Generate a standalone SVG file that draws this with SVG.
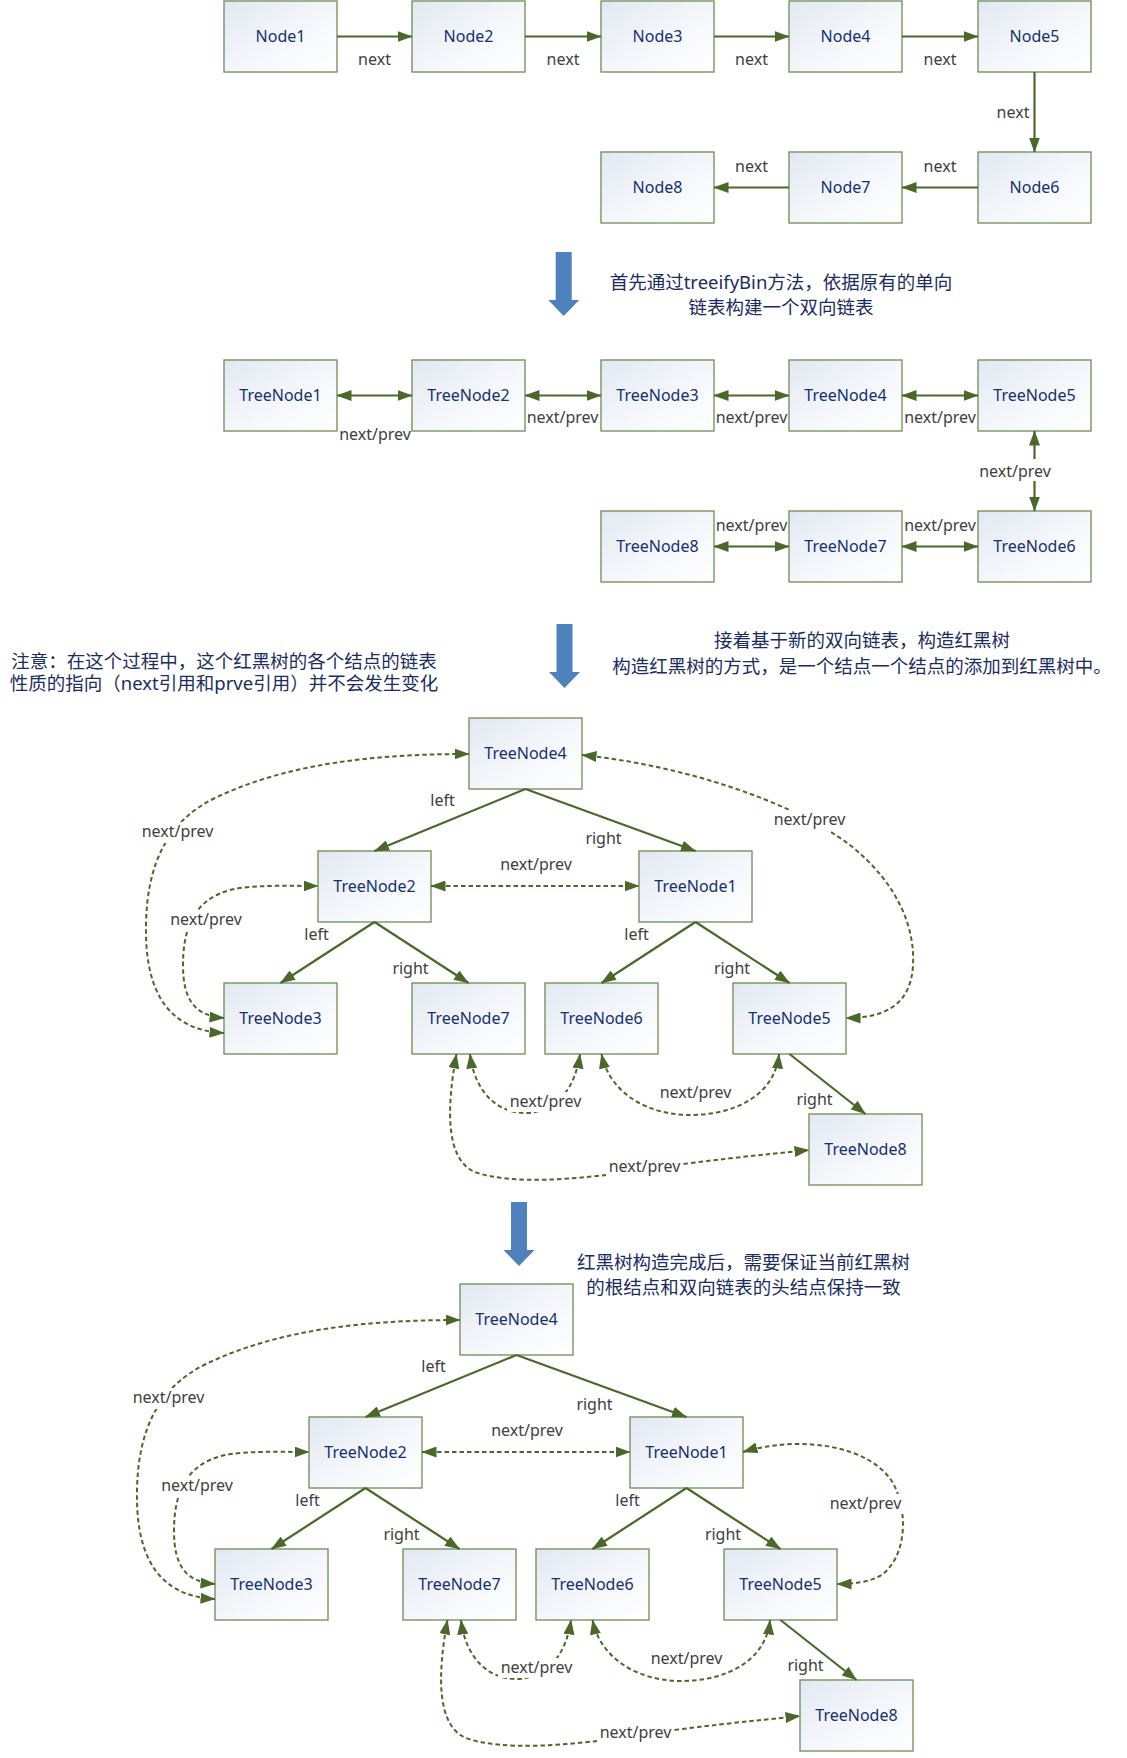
<svg xmlns="http://www.w3.org/2000/svg" xmlns:xlink="http://www.w3.org/1999/xlink" width="1127" height="1758" viewBox="0 0 1127 1758">
<defs>
<linearGradient id="nodefill" x1="0" y1="0" x2="1" y2="1">
<stop offset="0" stop-color="#e2e8f2"/>
<stop offset="0.55" stop-color="#f5f7fb"/>
<stop offset="1" stop-color="#ffffff"/>
</linearGradient>
<marker id="ah" markerUnits="userSpaceOnUse" viewBox="0 0 15 11" markerWidth="15" markerHeight="11" refX="14.5" refY="5.5" orient="auto-start-reverse">
<path d="M0,0 L15,5.5 L0,11 z" fill="#4a682a"/>
</marker>
<path id="bluearrow" d="M-8,0 H8 V48 H15.5 L0,64 L-15.5,48 H-8 z"/>
<style>
.node rect{fill:url(#nodefill);stroke:#6f8c54;stroke-width:1.3}
.node text{font-family:"Noto Sans","Noto Sans CJK SC",sans-serif;font-size:16px;fill:#14306e;text-anchor:middle}
.solid{fill:none;stroke:#4a682a;stroke-width:2.2;marker-end:url(#ah)}
.both{marker-start:url(#ah)}
.dash{fill:none;stroke:#4a682a;stroke-width:2;stroke-dasharray:4.5 3;marker-start:url(#ah);marker-end:url(#ah)}
.lbl{font-family:"Noto Sans","Noto Sans CJK SC",sans-serif;font-size:16px;fill:#404040;text-anchor:middle}
.bg{fill:#ffffff}
.note{font-family:"Noto Sans","Noto Sans CJK SC",sans-serif;font-size:18.5px;fill:#1b2d5e;text-anchor:middle}
.blue{fill:#4f81bd}
</style>
</defs>
<rect width="1127" height="1758" fill="#ffffff"/>

<!-- Section 1: singly linked list -->
<g id="node1" class="node"><rect x="224" y="1" width="113" height="71"/><text x="280.5" y="42.2">Node1</text></g>
<g id="node2" class="node"><rect x="412" y="1" width="113" height="71"/><text x="468.5" y="42.2">Node2</text></g>
<g id="node3" class="node"><rect x="601" y="1" width="113" height="71"/><text x="657.5" y="42.2">Node3</text></g>
<g id="node4" class="node"><rect x="789" y="1" width="113" height="71"/><text x="845.5" y="42.2">Node4</text></g>
<g id="node5" class="node"><rect x="978" y="1" width="113" height="71"/><text x="1034.5" y="42.2">Node5</text></g>
<g id="node8" class="node"><rect x="601" y="152" width="113" height="71"/><text x="657.5" y="193.2">Node8</text></g>
<g id="node7" class="node"><rect x="789" y="152" width="113" height="71"/><text x="845.5" y="193.2">Node7</text></g>
<g id="node6" class="node"><rect x="978" y="152" width="113" height="71"/><text x="1034.5" y="193.2">Node6</text></g>

<!-- Section 2: doubly linked list -->
<g id="treenode1-list" class="node"><rect x="224" y="360" width="113" height="71"/><text x="280.5" y="401.2">TreeNode1</text></g>
<g id="treenode2-list" class="node"><rect x="412" y="360" width="113" height="71"/><text x="468.5" y="401.2">TreeNode2</text></g>
<g id="treenode3-list" class="node"><rect x="601" y="360" width="113" height="71"/><text x="657.5" y="401.2">TreeNode3</text></g>
<g id="treenode4-list" class="node"><rect x="789" y="360" width="113" height="71"/><text x="845.5" y="401.2">TreeNode4</text></g>
<g id="treenode5-list" class="node"><rect x="978" y="360" width="113" height="71"/><text x="1034.5" y="401.2">TreeNode5</text></g>
<g id="treenode8-list" class="node"><rect x="601" y="511" width="113" height="71"/><text x="657.5" y="552.2">TreeNode8</text></g>
<g id="treenode7-list" class="node"><rect x="789" y="511" width="113" height="71"/><text x="845.5" y="552.2">TreeNode7</text></g>
<g id="treenode6-list" class="node"><rect x="978" y="511" width="113" height="71"/><text x="1034.5" y="552.2">TreeNode6</text></g>

<!-- Section 3: tree -->
<g id="treenode4-tree" class="node"><rect x="469" y="718" width="113" height="71"/><text x="525.5" y="759.2">TreeNode4</text></g>
<g id="treenode2-tree" class="node"><rect x="318" y="851" width="113" height="71"/><text x="374.5" y="892.2">TreeNode2</text></g>
<g id="treenode1-tree" class="node"><rect x="639" y="851" width="113" height="71"/><text x="695.5" y="892.2">TreeNode1</text></g>
<g id="treenode3-tree" class="node"><rect x="224" y="983" width="113" height="71"/><text x="280.5" y="1024.2">TreeNode3</text></g>
<g id="treenode7-tree" class="node"><rect x="412" y="983" width="113" height="71"/><text x="468.5" y="1024.2">TreeNode7</text></g>
<g id="treenode6-tree" class="node"><rect x="545" y="983" width="113" height="71"/><text x="601.5" y="1024.2">TreeNode6</text></g>
<g id="treenode5-tree" class="node"><rect x="733" y="983" width="113" height="71"/><text x="789.5" y="1024.2">TreeNode5</text></g>
<g id="treenode8-tree" class="node"><rect x="809" y="1114" width="113" height="71"/><text x="865.5" y="1155.2">TreeNode8</text></g>

<!-- Section 4: final tree -->
<g id="treenode4-final" class="node" transform="translate(-9,566)"><rect x="469" y="718" width="113" height="71"/><text x="525.5" y="759.2">TreeNode4</text></g>
<g id="treenode2-final" class="node" transform="translate(-9,566)"><rect x="318" y="851" width="113" height="71"/><text x="374.5" y="892.2">TreeNode2</text></g>
<g id="treenode1-final" class="node" transform="translate(-9,566)"><rect x="639" y="851" width="113" height="71"/><text x="695.5" y="892.2">TreeNode1</text></g>
<g id="treenode3-final" class="node" transform="translate(-9,566)"><rect x="224" y="983" width="113" height="71"/><text x="280.5" y="1024.2">TreeNode3</text></g>
<g id="treenode7-final" class="node" transform="translate(-9,566)"><rect x="412" y="983" width="113" height="71"/><text x="468.5" y="1024.2">TreeNode7</text></g>
<g id="treenode6-final" class="node" transform="translate(-9,566)"><rect x="545" y="983" width="113" height="71"/><text x="601.5" y="1024.2">TreeNode6</text></g>
<g id="treenode5-final" class="node" transform="translate(-9,566)"><rect x="733" y="983" width="113" height="71"/><text x="789.5" y="1024.2">TreeNode5</text></g>
<g id="treenode8-final" class="node" transform="translate(-9,566)"><rect x="809" y="1114" width="113" height="71"/><text x="865.5" y="1155.2">TreeNode8</text></g>

<!-- Step arrows and notes -->
<g id="steps">
<use xlink:href="#bluearrow" href="#bluearrow" class="blue" x="563.7" y="252"/>
<use xlink:href="#bluearrow" href="#bluearrow" class="blue" x="564.5" y="624"/>
<use xlink:href="#bluearrow" href="#bluearrow" class="blue" x="519" y="1202"/>
<text class="note" x="781" y="288.5">首先通过treeifyBin方法，依据原有的单向</text>
<text class="note" x="781" y="313.5">链表构建一个双向链表</text>
<text class="note" x="224" y="667.5">注意：在这个过程中，这个红黑树的各个结点的链表</text>
<text class="note" x="224" y="690">性质的指向（next引用和prve引用）并不会发生变化</text>
<text class="note" x="862" y="647">接着基于新的双向链表，构造红黑树</text>
<text class="note" x="862" y="673">构造红黑树的方式，是一个结点一个结点的添加到红黑树中。</text>
<text class="note" x="743.5" y="1268.5">红黑树构造完成后，需要保证当前红黑树</text>
<text class="note" x="743.5" y="1293.5">的根结点和双向链表的头结点保持一致</text>
</g>

<g id="connectors">
<!-- singly linked list -->
<path class="solid" d="M337,36.5 H412"/>
<path class="solid" d="M525,36.5 H601"/>
<path class="solid" d="M714,36.5 H789"/>
<path class="solid" d="M902,36.5 H978"/>
<path class="solid" d="M1034.5,72 V152"/>
<path class="solid" d="M978,187.5 H902"/>
<path class="solid" d="M789,187.5 H714"/>
<text class="lbl" x="374.5" y="64.5">next</text>
<text class="lbl" x="563" y="64.5">next</text>
<text class="lbl" x="751.5" y="64.5">next</text>
<text class="lbl" x="940" y="64.5">next</text>
<text class="lbl" x="1013" y="118">next</text>
<text class="lbl" x="940" y="172">next</text>
<text class="lbl" x="751.5" y="172">next</text>

<!-- doubly linked list -->
<path class="solid both" d="M337,395.5 H412"/>
<path class="solid both" d="M525,395.5 H601"/>
<path class="solid both" d="M714,395.5 H789"/>
<path class="solid both" d="M902,395.5 H978"/>
<path class="solid both" d="M1034.5,431 V511"/>
<path class="solid both" d="M978,546.5 H902"/>
<path class="solid both" d="M789,546.5 H714"/>
<text class="lbl" x="375" y="440">next/prev</text>
<text class="lbl" x="562.5" y="422.5">next/prev</text>
<text class="lbl" x="751.5" y="422.5">next/prev</text>
<text class="lbl" x="940" y="422.5">next/prev</text>
<rect class="bg" x="977" y="459" width="76" height="22"/>
<text class="lbl" x="1015" y="477">next/prev</text>
<text class="lbl" x="751.5" y="531">next/prev</text>
<text class="lbl" x="940" y="531">next/prev</text>

<!-- tree (during construction) -->
<g id="tree1-edges">
<path class="solid" d="M525.5,789 L374.5,851"/>
<path class="solid" d="M525.5,789 L695.5,851"/>
<path class="solid" d="M374.5,922 L280.5,983"/>
<path class="solid" d="M374.5,922 L468.5,983"/>
<path class="solid" d="M695.5,922 L601.5,983"/>
<path class="solid" d="M695.5,922 L789.5,983"/>
<path class="solid" d="M789.5,1054 L865.5,1114"/>
<path class="dash" d="M224,1033 C160,1030 145,980 146,925 C147,860 170,820 215,798 C290,762 380,754 469,754"/>
<path class="dash" d="M224,1018 C195,1016 183,1000 183,965 C183,920 200,890 250,887 C275,885 295,886 318,886"/>
<path class="dash" d="M431,886 H639"/>
<path class="dash" d="M582,755 C680,765 790,800 850,845 C900,885 915,930 913,965 C911,1005 885,1018 846,1018"/>
<path class="dash" d="M470,1054 C475,1095 500,1113 525,1113 C555,1113 575,1090 580,1054"/>
<path class="dash" d="M601.5,1054 C610,1095 650,1115 690,1115 C735,1115 775,1095 779,1054"/>
<path class="dash" d="M456.5,1054 C446,1110 446,1160 475,1172 C510,1185 580,1180 640,1170 C700,1161 760,1155 809,1150"/>
<text class="lbl" x="442.5" y="806">left</text>
<text class="lbl" x="603.5" y="844">right</text>
<text class="lbl" x="316.5" y="940">left</text>
<text class="lbl" x="410.5" y="974">right</text>
<text class="lbl" x="636.5" y="940">left</text>
<text class="lbl" x="732" y="974">right</text>
<text class="lbl" x="814.5" y="1105">right</text>
<rect class="bg" x="139" y="822" width="77" height="21"/>
<text class="lbl" x="177.5" y="837">next/prev</text>
<rect class="bg" x="168" y="910" width="77" height="21"/>
<text class="lbl" x="206" y="925">next/prev</text>
<text class="lbl" x="536" y="870">next/prev</text>
<rect class="bg" x="771" y="810" width="77" height="21"/>
<text class="lbl" x="809.5" y="825">next/prev</text>
<rect class="bg" x="507" y="1092" width="77" height="20"/>
<text class="lbl" x="545.5" y="1106.5">next/prev</text>
<text class="lbl" x="695.5" y="1098">next/prev</text>
<rect class="bg" x="606" y="1157" width="77" height="20"/>
<text class="lbl" x="644.5" y="1171.5">next/prev</text>
</g>

<!-- final tree -->
<g id="tree2-edges" transform="translate(-9,566)">
<path class="solid" d="M525.5,789 L374.5,851"/>
<path class="solid" d="M525.5,789 L695.5,851"/>
<path class="solid" d="M374.5,922 L280.5,983"/>
<path class="solid" d="M374.5,922 L468.5,983"/>
<path class="solid" d="M695.5,922 L601.5,983"/>
<path class="solid" d="M695.5,922 L789.5,983"/>
<path class="solid" d="M789.5,1054 L865.5,1114"/>
<path class="dash" d="M224,1033 C160,1030 145,980 146,925 C147,860 170,820 215,798 C290,762 380,754 469,754"/>
<path class="dash" d="M224,1018 C195,1016 183,1000 183,965 C183,920 200,890 250,887 C275,885 295,886 318,886"/>
<path class="dash" d="M431,886 H639"/>
<path class="dash" d="M752,886 C809,869 879,879 902,917 C919,949 914,994 889,1010 C877,1016 864,1018 846,1018"/>
<path class="dash" d="M470,1054 C475,1095 500,1113 525,1113 C555,1113 575,1090 580,1054"/>
<path class="dash" d="M601.5,1054 C610,1095 650,1115 690,1115 C735,1115 775,1095 779,1054"/>
<path class="dash" d="M456.5,1054 C446,1110 446,1160 475,1172 C510,1185 580,1180 640,1170 C700,1161 760,1155 809,1150"/>
<text class="lbl" x="442.5" y="806">left</text>
<text class="lbl" x="603.5" y="844">right</text>
<text class="lbl" x="316.5" y="940">left</text>
<text class="lbl" x="410.5" y="974">right</text>
<text class="lbl" x="636.5" y="940">left</text>
<text class="lbl" x="732" y="974">right</text>
<text class="lbl" x="814.5" y="1105">right</text>
<rect class="bg" x="139" y="822" width="77" height="21"/>
<text class="lbl" x="177.5" y="837">next/prev</text>
<rect class="bg" x="168" y="910" width="77" height="21"/>
<text class="lbl" x="206" y="925">next/prev</text>
<text class="lbl" x="536" y="870">next/prev</text>
<rect class="bg" x="836" y="928" width="77" height="20"/>
<text class="lbl" x="874.5" y="943">next/prev</text>
<rect class="bg" x="507" y="1092" width="77" height="20"/>
<text class="lbl" x="545.5" y="1106.5">next/prev</text>
<text class="lbl" x="695.5" y="1098">next/prev</text>
<rect class="bg" x="606" y="1157" width="77" height="20"/>
<text class="lbl" x="644.5" y="1171.5">next/prev</text>
</g>
</g>
</svg>
